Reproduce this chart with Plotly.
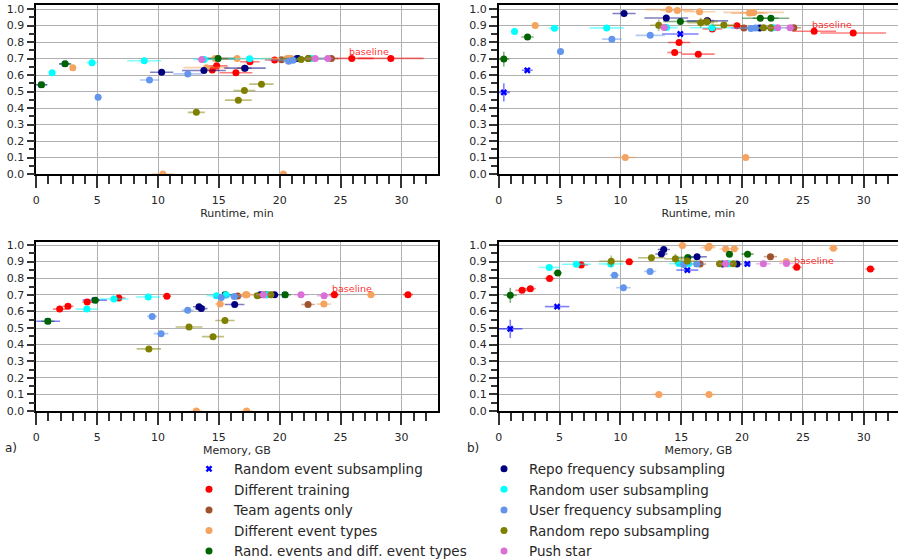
import plotly.graph_objects as go

# ---------------- data ----------------
series_names = ["Random event subsampling", "Different training", "Team agents only",
                "Different event types", "Rand. events and diff. event types",
                "Repo frequency subsampling", "Random user subsampling",
                "User frequency subsampling", "Random repo subsampling", "Push star"]

# Random event subsampling
rev_rt = [0.42, 2.35, 14.92, 21.4]
rev_rt_err = [0.5, 0.45, 1.5, 1.2]
rev_mem = [0.95, 4.8, 15.5, 20.43]
rev_mem_err = [1.0, 1.0, 0.9, 0.3]
rev_a = [0.541, 0.668, 0.70, 0.70]
rev_a_err = [0.01, 0.01, 0.005, 0.005]
rev_b = [0.495, 0.629, 0.849, 0.886]
rev_b_err = [0.055, 0.01, 0.008, 0.005]

# Different training
dtr_rt = [16.40, 14.46, 14.82, 17.55, 19.58, 25.92, 29.13]
dtr_rt_err = [1.35, 0.6, 0.9, 0.8, 0.8, 1.8, 2.7]
dtr_mem = [1.92, 2.60, 4.18, 6.78, 10.73, 24.49, 30.54]
dtr_mem_err = [0.55, 0.45, 0.4, 0.55, 0.35, 0.4, 0.4]
dtr_a = [0.614, 0.631, 0.656, 0.681, 0.692, 0.701, 0.701]
dtr_a_err = [0.012, 0.015, 0.015, 0.012, 0.01, 0.008, 0.008]
dtr_b = [0.727, 0.737, 0.798, 0.880, 0.899, 0.866, 0.855]
dtr_b_err = [0.008, 0.008, 0.008, 0.008, 0.008, 0.008, 0.008]
baseline_idx = 5

# Team agents only
tao_rt = [17.1, 20.15, 24.25]
tao_rt_err = [0.6, 0.5, 0.6]
tao_mem = [22.33, 16.55, 18.8]
tao_mem_err = [0.55, 0.5, 0.4]
tao_a = [0.642, 0.693, 0.70]
tao_a_err = [0.015, 0.01, 0.01]
tao_b = [0.93, 0.885, 0.887]
tao_b_err = [0.01, 0.008, 0.008]

# Different event types
det_rt = [3.0, 13.98, 14.68, 16.5, 20.6, 20.95, 20.8, 10.4, 20.3]
det_rt_err = [0.2, 1.9, 1.4, 1.3, 1.5, 2.5, 1.0, 0.9, 0.3]
det_mem = [23.63, 15.1, 17.3, 17.2, 18.65, 27.5, 19.36, 13.15, 17.28]
det_mem_err = [0.6, 0.4, 0.5, 0.6, 0.5, 0.4, 0.4, 0.5, 0.5]
det_a = [0.644, 0.645, 0.70, 0.70, 0.70, 0.70, 0.70, 0.0, 0.0]
det_a_err = [0.015, 0.01, 0.01, 0.02, 0.01, 0.01, 0.01, 0.005, 0.005]
det_b = [0.901, 0.997, 0.992, 0.984, 0.976, 0.98, 0.978, 0.1, 0.1]
det_b_err = [0.008, 0.005, 0.005, 0.008, 0.005, 0.005, 0.005, 0.005, 0.005]

# Rand. events and diff. event types
red_rt = [0.42, 2.37, 14.93, 21.5, 22.37]
red_rt_err = [0.45, 0.5, 1.4, 1.5, 1.5]
red_mem = [0.95, 4.85, 15.54, 18.96, 20.45]
red_mem_err = [0.55, 0.35, 0.9, 0.3, 0.5]
red_a = [0.541, 0.668, 0.70, 0.70, 0.70]
red_a_err = [0.01, 0.015, 0.01, 0.015, 0.01]
red_b = [0.697, 0.831, 0.925, 0.945, 0.945]
red_b_err = [0.045, 0.008, 0.008, 0.008, 0.008]

# Repo frequency subsampling
rfs_rt = [10.3, 13.77, 17.15, 21.45, 22.4]
rfs_rt_err = [0.95, 1.8, 1.7, 0.5, 0.5]
rfs_mem = [13.56, 13.37, 16.3, 18.4, 19.58]
rfs_mem_err = [0.5, 0.5, 0.8, 0.4, 0.4]
rfs_a = [0.617, 0.628, 0.642, 0.70, 0.70]
rfs_a_err = [0.01, 0.015, 0.012, 0.01, 0.01]
rfs_b = [0.973, 0.946, 0.929, 0.885, 0.885]
rfs_b_err = [0.008, 0.008, 0.008, 0.008, 0.008]

# Random user subsampling
rus_rt = [1.3, 4.58, 8.87, 13.8, 17.53, 22.6]
rus_rt_err = [0.1, 0.45, 1.4, 0.9, 1.8, 1.2]
rus_mem = [4.15, 6.38, 9.2, 14.8, 15.6, 18.98]
rus_mem_err = [0.9, 1.2, 1.0, 0.8, 0.6, 0.4]
rus_a = [0.614, 0.675, 0.687, 0.695, 0.699, 0.70]
rus_a_err = [0.015, 0.01, 0.02, 0.01, 0.01, 0.01]
rus_b = [0.865, 0.884, 0.886, 0.888, 0.887, 0.887]
rus_b_err = [0.02, 0.008, 0.008, 0.008, 0.008, 0.008]

# User frequency subsampling
ufs_rt = [5.08, 9.3, 12.45, 20.73, 21.1]
ufs_rt_err = [0.1, 0.8, 1.2, 0.5, 2.0]
ufs_mem = [10.25, 9.52, 12.44, 15.2, 16.27]
ufs_mem_err = [0.6, 0.4, 0.5, 0.6, 0.6]
ufs_a = [0.466, 0.57, 0.607, 0.684, 0.69]
ufs_a_err = [0.008, 0.01, 0.015, 0.01, 0.01]
ufs_b = [0.743, 0.818, 0.841, 0.883, 0.885]
ufs_b_err = [0.008, 0.008, 0.008, 0.008, 0.008]

# Random repo subsampling
rrs_rt = [13.15, 16.6, 17.1, 18.5, 21.76, 22.35]
rrs_rt_err = [0.7, 1.1, 0.9, 1.0, 0.5, 0.5]
rrs_mem = [9.25, 14.52, 12.55, 15.5, 18.15, 19.27]
rrs_mem_err = [1.0, 0.9, 1.1, 0.8, 0.3, 0.3]
rrs_a = [0.374, 0.448, 0.506, 0.545, 0.695, 0.70]
rrs_a_err = [0.008, 0.015, 0.015, 0.01, 0.01, 0.01]
rrs_b = [0.902, 0.917, 0.923, 0.903, 0.887, 0.887]
rrs_b_err = [0.035, 0.03, 0.02, 0.01, 0.01, 0.01]

# Push star
pst_rt = [13.6, 22.92, 23.95]
pst_rt_err = [0.4, 0.8, 0.4]
pst_mem = [23.65, 18.65, 21.75]
pst_mem_err = [0.6, 0.6, 0.6]
pst_a = [0.694, 0.70, 0.70]
pst_a_err = [0.01, 0.01, 0.01]
pst_b = [0.889, 0.887, 0.887]
pst_b_err = [0.008, 0.008, 0.008]

x_ticks = [0, 5, 10, 15, 20, 25, 30]
y_ticks = [0.0, 0.1, 0.2, 0.3, 0.4, 0.5, 0.6, 0.7, 0.8, 0.9, 1.0]

# ---------------- styling ----------------
colors = ["#0000FF", "#FF0000", "#A0522D", "#F4A460", "#006400",
          "#000080", "#00FFFF", "#6495ED", "#808000", "#DA70D6"]
symbols = ["x", "circle", "circle", "circle", "circle",
           "circle", "circle", "circle", "circle", "circle"]

data = [
    (rev_rt, rev_rt_err, rev_mem, rev_mem_err, rev_a, rev_a_err, rev_b, rev_b_err),
    (dtr_rt, dtr_rt_err, dtr_mem, dtr_mem_err, dtr_a, dtr_a_err, dtr_b, dtr_b_err),
    (tao_rt, tao_rt_err, tao_mem, tao_mem_err, tao_a, tao_a_err, tao_b, tao_b_err),
    (det_rt, det_rt_err, det_mem, det_mem_err, det_a, det_a_err, det_b, det_b_err),
    (red_rt, red_rt_err, red_mem, red_mem_err, red_a, red_a_err, red_b, red_b_err),
    (rfs_rt, rfs_rt_err, rfs_mem, rfs_mem_err, rfs_a, rfs_a_err, rfs_b, rfs_b_err),
    (rus_rt, rus_rt_err, rus_mem, rus_mem_err, rus_a, rus_a_err, rus_b, rus_b_err),
    (ufs_rt, ufs_rt_err, ufs_mem, ufs_mem_err, ufs_a, ufs_a_err, ufs_b, ufs_b_err),
    (rrs_rt, rrs_rt_err, rrs_mem, rrs_mem_err, rrs_a, rrs_a_err, rrs_b, rrs_b_err),
    (pst_rt, pst_rt_err, pst_mem, pst_mem_err, pst_a, pst_a_err, pst_b, pst_b_err),
]


def rgba(hexc, a):
    h = hexc.lstrip("#")
    r, g, b = int(h[0:2], 16), int(h[2:4], 16), int(h[4:6], 16)
    return f"rgba({r},{g},{b},{a})"


fig = go.Figure()
# panels: (xaxis id, yaxis id, x index, y index)
panels = [("x", "y", 0, 4), ("x2", "y2", 0, 6), ("x3", "y3", 2, 4), ("x4", "y4", 2, 6)]

for pi, (xa, ya, xi, yi) in enumerate(panels):
    for si, name in enumerate(series_names):
        d = data[si]
        c = colors[si]
        fig.add_trace(go.Scatter(
            x=d[xi], y=d[yi], mode="markers", name=name,
            xaxis=xa, yaxis=ya,
            showlegend=(pi == 0), legend=("legend" if si < 5 else "legend2"),
            marker=dict(color=c, size=7 if symbols[si] == "circle" else 6,
                        symbol=symbols[si],
                        line=dict(width=0)),
            error_x=dict(type="data", array=d[xi + 1], color=rgba(c, 0.5),
                         thickness=1.6, width=0),
            error_y=dict(type="data", array=d[yi + 1], color=rgba(c, 0.5),
                         thickness=1.6, width=0),
        ))

# baseline annotations
annotations = []
for (xa, ya, xi, yi) in panels:
    bx = data[1][xi][baseline_idx]
    by = data[1][yi][baseline_idx]
    annotations.append(dict(x=bx - 0.35, y=by + 0.04, xref=xa, yref=ya,
                            text="baseline", showarrow=False, xanchor="left",
                            yanchor="middle",
                            font=dict(size=9.5, color="rgba(255,0,0,0.85)",
                                      family="DejaVu Sans")))
annotations.append(dict(x=3 / 898, y=1 - 448 / 559, xref="paper", yref="paper",
                        text="a)", showarrow=False, xanchor="left", yanchor="middle",
                        font=dict(size=12, color="#262626", family="DejaVu Sans")))
annotations.append(dict(x=465 / 898, y=1 - 448 / 559, xref="paper", yref="paper",
                        text="b)", showarrow=False, xanchor="left", yanchor="middle",
                        font=dict(size=12, color="#262626", family="DejaVu Sans")))

tickfont = dict(size=11, color="#262626", family="DejaVu Sans")


def xaxis(domain, rng, title, anchor):
    return dict(domain=domain, range=rng, anchor=anchor, tickvals=x_ticks,
                showline=True, linecolor="black", linewidth=1.5, mirror=True,
                ticks="outside", ticklen=12, tickwidth=1.5, tickcolor="#333333",
                ticklabelstandoff=3,
                showgrid=True, gridcolor="#b0b0b0", gridwidth=1, zeroline=False,
                tickfont=tickfont, automargin=False,
                minor=dict(dtick=1, tick0=0, ticks="outside", ticklen=8, tickwidth=1.5,
                           tickcolor="#333333", showgrid=False),
                title=dict(text=title, font=dict(size=11, color="#262626",
                                                 family="DejaVu Sans"),
                           standoff=0))


def yaxis(domain, rng, anchor, mirror):
    return dict(domain=domain, range=rng, anchor=anchor, tickvals=y_ticks,
                tickformat=".1f",
                showline=True, linecolor="black", linewidth=1.5, mirror=mirror,
                ticks="outside", ticklen=8, tickwidth=1.5, tickcolor="#333333",
                showgrid=True, gridcolor="#b0b0b0", gridwidth=1, zeroline=False,
                tickfont=tickfont, automargin=False,
                minor=dict(dtick=0.05, tick0=0, ticks="outside", ticklen=6,
                           tickwidth=1.5, tickcolor="#333333", showgrid=False))


W, H = 898, 559
left_dom = [36.3 / W, 437.7 / W]
right_dom = [498.7 / W, 1.0]
top_dom = [1 - 174 / H, 1 - 5 / H]
bot_dom = [1 - 411 / H, 1 - 241.7 / H]
left_rng = [0, 401.4 / 12.17]
right_rng = [0, (W - 498.7) / 12.17]

legend_font = dict(size=13.5, color="#262626", family="DejaVu Sans")

fig.update_layout(
    width=W, height=H,
    margin=dict(l=0, r=0, t=0, b=0, autoexpand=False),
    paper_bgcolor="white", plot_bgcolor="white",
    font=dict(family="DejaVu Sans", color="#262626"),
    xaxis=xaxis(left_dom, left_rng, "Runtime, min", "y"),
    yaxis=yaxis(top_dom, [0, 1.025], "x", True),
    xaxis2=xaxis(right_dom, right_rng, "Runtime, min", "y2"),
    yaxis2=yaxis(top_dom, [0, 1.025], "x2", False),
    xaxis3=xaxis(left_dom, left_rng, "Memory, GB", "y3"),
    yaxis3=yaxis(bot_dom, [0, 1.02], "x3", True),
    xaxis4=xaxis(right_dom, right_rng, "Memory, GB", "y4"),
    yaxis4=yaxis(bot_dom, [0, 1.02], "x4", False),
    annotations=annotations,
    showlegend=True,
    legend=dict(orientation="v", x=184 / W, y=1 - 453.5 / H, xanchor="left",
                yanchor="top", itemwidth=40, tracegroupgap=0,
                font=legend_font, bgcolor="rgba(0,0,0,0)", traceorder="normal"),
    legend2=dict(orientation="v", x=479 / W, y=1 - 453.5 / H, xanchor="left",
                 yanchor="top", itemwidth=40, tracegroupgap=0,
                 font=legend_font, bgcolor="rgba(0,0,0,0)", traceorder="normal"),
)

fig.write_html("out.html", config={"displayModeBar": False},
               post_script="document.body.style.margin='0';"
                           "document.body.style.overflow='hidden';")
